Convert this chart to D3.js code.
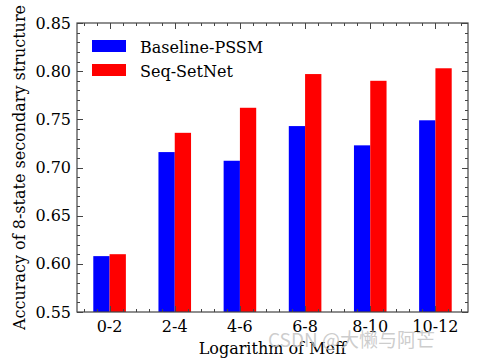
<!DOCTYPE html>
<html><head><meta charset="utf-8">
<script src="https://cdn.jsdelivr.net/npm/d3@7"></script>
<style>body{margin:0;background:#fff}</style>
</head><body>
<script>
const categories = ["0-2","2-4","4-6","6-8","8-10","10-12"];
const baseline = [0.608,0.716,0.707,0.743,0.723,0.749];
const seqSetNet = [0.610,0.736,0.762,0.797,0.790,0.803];
const seriesNames = ["Baseline-PSSM","Seq-SetNet"];
const colors = ["#0000ff","#ff0000"];
const yTicks = [0.55,0.60,0.65,0.70,0.75,0.80,0.85];

const W=482,H=359;
const m={l:77,t:23,r:468,b:312};
const font="DejaVu Serif";
const fs=16;
const svg=d3.select("body").append("svg").attr("width",W).attr("height",H);
const x=d3.scaleLinear().domain([-0.5,categories.length-0.5]).range([m.l,m.r]);
const y=d3.scaleLinear().domain([0.55,0.85]).range([m.b,m.t]);
const bw=0.25;

const series=[baseline,seqSetNet];
series.forEach((vals,si)=>{
  svg.append("g").selectAll("rect").data(vals).join("rect")
    .attr("x",(d,i)=>x(i+(si===0?-bw:0)))
    .attr("width",x(bw)-x(0))
    .attr("y",d=>y(d))
    .attr("height",d=>y(0.55)-y(d))
    .attr("fill",colors[si]);
});

const axc="#444";
svg.append("rect").attr("x",m.l).attr("y",m.t).attr("width",m.r-m.l).attr("height",m.b-m.t)
  .attr("fill","none").attr("stroke",axc).attr("stroke-width",1.2);

const yMinor=d3.range(55,86).map(v=>v/100);
const tg=svg.append("g").attr("stroke",axc).attr("stroke-width",1);
yMinor.forEach(v=>{
  const major=Math.round(v*100)%5===0;
  const len=major?6:3;
  const yy=Math.round(y(v))+0.5;
  tg.append("line").attr("x1",m.l).attr("x2",m.l+len).attr("y1",yy).attr("y2",yy);
  tg.append("line").attr("x1",m.r).attr("x2",m.r-len).attr("y1",yy).attr("y2",yy);
});
const xMinor=d3.range(-2,5*5+3).map(v=>v/5);
xMinor.forEach(v=>{
  if(v<=-0.5||v>=categories.length-0.5) return;
  const major=Math.abs(v-Math.round(v))<1e-6;
  const len=major?6:3;
  const xx=Math.round(x(v))+0.5;
  tg.append("line").attr("x1",xx).attr("x2",xx).attr("y1",m.b).attr("y2",m.b-len);
  tg.append("line").attr("x1",xx).attr("x2",xx).attr("y1",m.t).attr("y2",m.t+len);
});

svg.append("g").selectAll("text").data(yTicks).join("text")
  .attr("x",m.l-6).attr("y",d=>y(d)+5.5).attr("text-anchor","end")
  .attr("font-family",font).attr("font-size",fs).text(d=>d.toFixed(2));
svg.append("g").selectAll("text").data(categories).join("text")
  .attr("x",(d,i)=>x(i)).attr("y",m.b+20).attr("text-anchor","middle")
  .attr("font-family",font).attr("font-size",fs).text(d=>d);

svg.append("text").attr("x",(m.l+m.r)/2).attr("y",354).attr("text-anchor","middle")
  .attr("font-family",font).attr("font-size",fs).text("Logarithm of Meff");
svg.append("text").attr("transform",`translate(25,${(m.t+m.b)/2}) rotate(-90)`)
  .attr("text-anchor","middle").attr("font-family",font).attr("font-size",fs)
  .text("Accuracy of 8-state secondary structure");

const lg=svg.append("g");
seriesNames.forEach((n,i)=>{
  lg.append("rect").attr("x",92).attr("y",40+i*24).attr("width",34).attr("height",12).attr("fill",colors[i]);
  lg.append("text").attr("x",140).attr("y",52.5+i*24).attr("font-family",font).attr("font-size",fs).text(n);
});

svg.append("text").attr("x",268).attr("y",347).attr("font-family","Noto Sans CJK SC")
  .attr("font-size",19).attr("fill","#c4c4c4").attr("fill-opacity",0.85).text("CSDN @大懒与阿芒");
</script>
</body></html>
